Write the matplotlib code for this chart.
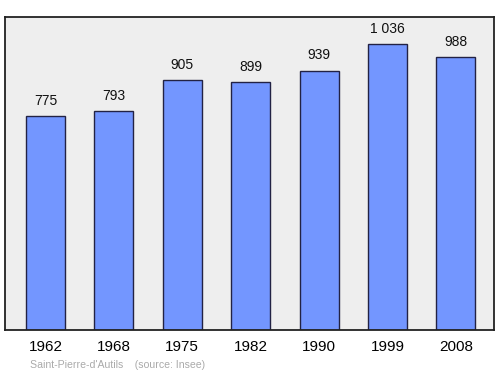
import matplotlib
matplotlib.use("Agg")
import matplotlib.pyplot as plt

years = ["1962", "1968", "1975", "1982", "1990", "1999", "2008"]
population = [775, 793, 905, 899, 939, 1036, 988]
value_labels = ["775", "793", "905", "899", "939", "1 036", "988"]
footer = "Saint-Pierre-d'Autils    (source: Insee)"

plt.rcParams['font.family'] = ['Liberation Sans', 'DejaVu Sans']

fig = plt.figure(figsize=(5, 3.74), dpi=100)
ax = fig.add_axes([0.01, 0.1176, 0.978, 0.837])
ax.set_facecolor('#eeeeee')
x = list(range(len(years)))
bars = ax.bar(x, population, width=0.57, color='#7396ff', edgecolor='#222244', linewidth=1.0, zorder=2)
for xi, v, lab in zip(x, population, value_labels):
    ax.annotate(lab, (xi, v), xytext=(0, 6), textcoords='offset points',
                ha='center', va='bottom', fontsize=10, color='#111111')
ax.set_xlim(-0.592, 6.557)
ax.set_ylim(0, 1134)
ax.set_yticks([])
ax.set_xticks(x)
ax.set_xticklabels(years, fontsize=11)
ax.tick_params(axis='x', length=0, pad=7)
for s in ax.spines.values():
    s.set_linewidth(1.3)
    s.set_color('#222222')
fig.text(0.06, 0.025, footer, fontsize=7.6, color='#aaaaaa', ha='left', va='center')
fig.savefig('out.png', dpi=100)
